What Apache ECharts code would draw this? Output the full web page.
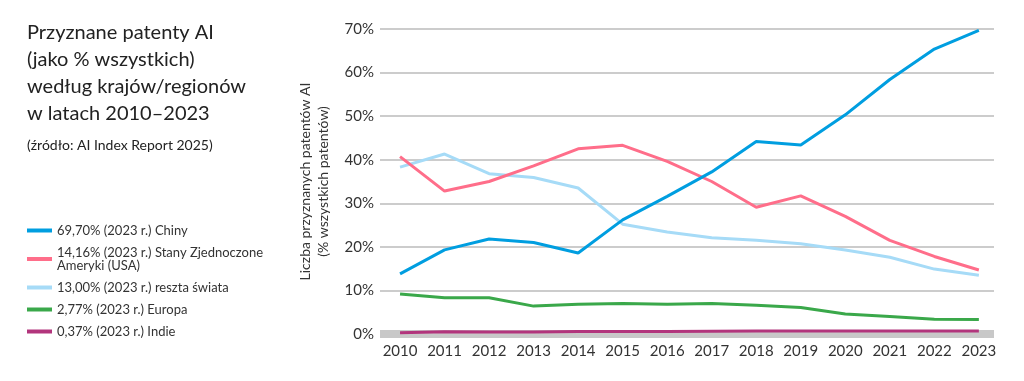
<!DOCTYPE html>
<html>
<head>
<meta charset="utf-8">
<script src="https://cdn.jsdelivr.net/npm/echarts@6/dist/echarts.min.js"></script>
<style>
html,body{margin:0;padding:0;background:#fff;}
#c{width:1024px;height:381px;}
</style>
</head>
<body>
<div id="c"></div>
<script>
const years = [2010,2011,2012,2013,2014,2015,2016,2017,2018,2019,2020,2021,2022,2023];
const chiny = [13.8,19.3,21.8,21.0,18.6,26.2,31.6,37.2,44.2,43.4,50.3,58.4,65.4,69.7];
const usa = [40.7,32.8,35.0,38.6,42.5,43.3,39.6,35.0,29.1,31.7,27.0,21.5,17.8,14.7];
const reszta = [38.3,41.3,36.8,35.9,33.5,25.2,23.4,22.1,21.5,20.7,19.3,17.6,14.9,13.5];
const europa = [9.2,8.3,8.3,6.4,6.8,7.0,6.8,7.0,6.6,6.1,4.6,4.0,3.4,3.3];
const indie = [0.3,0.5,0.45,0.45,0.55,0.6,0.6,0.65,0.7,0.7,0.7,0.7,0.7,0.7];
const yTicks = [0,10,20,30,40,50,60,70];
const seriesNames = [
  '69,70% (2023 r.) Chiny',
  '14,16% (2023 r.) Stany Zjednoczone Ameryki (USA)',
  '13,00% (2023 r.) reszta świata',
  '2,77% (2023 r.) Europa',
  '0,37% (2023 r.) Indie'
];
const colors = ['#009ee0','#ff6e8a','#a6dbf7','#3aa84a','#b2357c'];
const seriesValues = [chiny, usa, reszta, europa, indie];

const FONT = 'Lato, "Open Sans", sans-serif';
const chart = echarts.init(document.getElementById('c'));
const pairs = v => years.map((y,i)=>[y, v[i]]);
chart.setOption({
  animation:false,
  textStyle:{fontFamily:FONT},
  title:[
    {text:'Przyznane patenty AI\n(jako % wszystkich)\nwedług krajów/regionów\nw latach 2010–2023',
     left:27, top:19, padding:0,
     textStyle:{fontFamily:FONT,fontSize:20,fontWeight:'normal',color:'#222',lineHeight:27}},
    {text:'(źródło: AI Index Report 2025)', left:27, top:138, padding:0,
     textStyle:{fontFamily:FONT,fontSize:14,fontWeight:'normal',color:'#222'}}
  ],
  legend:{
    orient:'vertical', left:27, top:224, padding:0,
    icon:'rect', itemWidth:25, itemHeight:4, itemGap:9,
    textStyle:{fontFamily:FONT,fontSize:13,color:'#333',lineHeight:13},
    formatter: n => n.replace('Zjednoczone Ameryki','Zjednoczone\nAmeryki'),
    data: seriesNames
  },
  grid:{left:380, right:30, top:29, bottom:47, containLabel:false},
  xAxis:{
    type:'value', min:2009.55, max:2023.34,
    axisLine:{show:true,lineStyle:{color:'#c8c8c8',width:8,cap:'butt'}},
    axisTick:{show:false},
    splitLine:{show:false},
    axisLabel:{customValues:years, formatter:v=>String(v), fontSize:15, color:'#333', margin:10, fontFamily:FONT}
  },
  yAxis:{
    type:'value', min:0, max:70, interval:10,
    name:'Liczba przyznanych patentów AI\n(% wszystkich patentów)',
    nameLocation:'middle', nameGap:48, nameRotate:90,
    nameTextStyle:{fontSize:14,color:'#333',lineHeight:18,fontFamily:FONT},
    axisLine:{show:false}, axisTick:{show:false},
    axisLabel:{formatter:v=>v+'%', fontSize:15, color:'#333', margin:6, fontFamily:FONT},
    splitLine:{lineStyle:{color:'#cccccc',width:2}}
  },
  series: seriesNames.map((n,i)=>({
    name:n, type:'line', data:pairs(seriesValues[i]),
    symbol:'none', lineStyle:{width:3,color:colors[i]}, itemStyle:{color:colors[i]},
    z: 10 - i
  }))
});
</script>
</body>
</html>
